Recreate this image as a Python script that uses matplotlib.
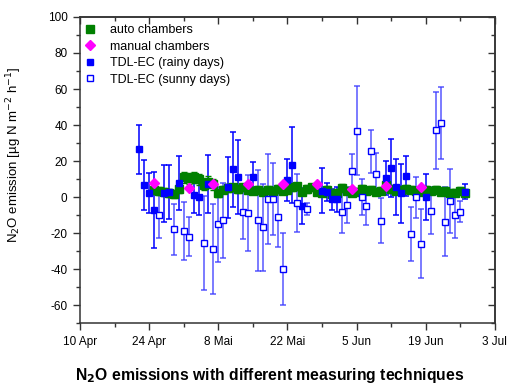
import matplotlib
matplotlib.use("Agg")
import matplotlib.pyplot as plt
import numpy as np
from matplotlib.ticker import MultipleLocator

plt.rcParams['font.family'] = ['Liberation Sans', 'DejaVu Sans']
plt.rcParams['axes.unicode_minus'] = False

# x = days after 10 Apr
date_ticks = [0, 14, 28, 42, 56, 70, 84]
date_labels = ["10 Apr", "24 Apr", "8 Mai", "22 Mai", "5 Jun", "19 Jun", "3 Jul"]

# auto chambers (daily)
auto_days = list(range(15, 79))
auto_vals = [3.9, 3.3, 3.0, 2.2, 1.7, 4.5, 11.0, 10.4, 11.0, 9.8,
             6.7, 8.5, 7.0, 2.0, 4.0, 5.0, 5.5, 4.5, 5.5, 4.0,
             3.5, 4.0, 3.0, 4.0, 3.5, 4.5, 3.5, 4.0, 5.5, 6.0,
             3.0, 4.5, 5.5, 3.0, 2.5, 4.0, 1.5, 2.5, 5.0, 3.5,
             2.5, 3.0, 4.5, 3.5, 4.0, 3.0, 3.5, 6.5, 4.5, 3.5,
             4.0, 4.5, 4.0, 3.5, 3.0, 4.0, 3.5, 4.0, 3.0, 3.5,
             2.0, 2.5, 3.5, 2.5]
auto_err = [2, 2, 2, 2, 2, 2, 3, 3, 3, 3,
            3, 3, 3, 2, 2, 2, 2, 2, 2, 2,
            2, 2, 2, 2, 2, 2, 2, 2, 2, 2,
            2, 2, 2, 2, 2, 2, 2, 2, 2, 2,
            2, 2, 2, 2, 2, 2, 2, 2, 2, 2,
            2, 2, 2, 2, 2, 2, 2, 2, 2, 2,
            2, 2, 2, 2]

# manual chambers
manual_days = [15, 22, 27, 34, 41, 48, 55, 62, 69]
manual_vals = [8.0, 5.0, 7.5, 7.3, 7.0, 7.0, 4.4, 6.0, 5.6]

# TDL-EC rainy days
rainy_days = [12, 13, 14, 15, 17, 18, 20, 23, 24, 26, 30, 31, 32, 35,
              42, 43, 45, 49, 50, 51, 52, 62, 63, 64, 65, 66, 70, 78]
rainy_vals = [26.5, 6.7, 2.4, -7.2, 2.0, 3.0, 8.0, 1.1, 0.2, 7.2, 5.4, 15.4, 11.3, 10.9,
              9.4, 17.8, -4.8, 3.5, 3.0, -1.3, -1.3, 10.4, 16.3, 5.7, 2.0, 11.7, 0.2, 3.0]
rainy_err = [13.5, 14, 11, 21, 16, 15, 15, 10, 10, 16, 17, 21, 20.5, 8.5,
             11.6, 21, 10, 12.5, 5, 6, 7, 9.5, 16, 15.5, 16.5, 11, 12.7, 4]

# TDL-EC sunny days
sunny_days = [16, 19, 21, 22, 25, 27, 28, 29, 33, 34, 36, 37, 38, 39, 40, 41, 44, 46,
              53, 54, 55, 56, 57, 58, 59, 60, 61, 67, 68, 69, 71, 72, 73, 74, 75, 76, 77]
sunny_vals = [-10.0, -18.0, -18.7, -22.0, -25.6, -29.0, -15.2, -13.0, -8.2, -8.7, -12.8,
              -16.8, -1.3, -0.9, -10.9, -40.2, -3.3, -6.7,
              -8.3, -4.6, 14.4, 36.9, 0.2, -4.8, 25.5, 12.8, -13.1, -20.6, -0.2, -25.9,
              -7.6, 37.0, 41.3, -13.7, -2.2, -10.0, -8.1]
sunny_err = [13, 14, 16, 11, 26, 25, 21, 21, 15, 21, 28, 24, 25, 20, 17, 20, 16, 3.5,
             11.5, 10, 9.6, 24.5, 10, 10.5, 12, 11.5, 12.5, 15, 11.4, 19, 13, 21.5, 20,
             19, 18, 13, 6]

fig = plt.figure(figsize=(5.07, 3.86), dpi=100)
ax = fig.add_axes([0.158, 0.163, 0.818, 0.793])

blue = '#0000ff'
ax.errorbar(rainy_days, rainy_vals, yerr=rainy_err, fmt='none', ecolor=blue,
            elinewidth=1.1, capsize=2.5, capthick=1.1, zorder=2)
ax.errorbar(sunny_days, sunny_vals, yerr=sunny_err, fmt='none', ecolor='#3a3aff',
            elinewidth=1.1, capsize=2.5, capthick=1.1, alpha=0.85, zorder=2)
ax.errorbar(auto_days, auto_vals, yerr=auto_err, fmt='none', ecolor='#008000',
            elinewidth=1, capsize=2.5, capthick=1, zorder=3)

h_auto, = ax.plot(auto_days, auto_vals, 's', color='#008000', ms=5.5, mec='#008000',
                  zorder=3, label='auto chambers')
h_rainy, = ax.plot(rainy_days, rainy_vals, 's', color=blue, ms=5, mec=blue,
                   zorder=4, label='TDL-EC (rainy days)')
h_sunny, = ax.plot(sunny_days, sunny_vals, 's', mfc='white', mec=blue, mew=1, ms=5,
                   zorder=4, label='TDL-EC (sunny days)')
h_man, = ax.plot(manual_days, manual_vals, 'D', color='#ff00ff', mec='#ff00ff', ms=5.5,
                 zorder=5, label='manual chambers')

ax.set_xlim(0, 84)
ax.set_ylim(-70, 100)
ax.set_xticks(date_ticks)
ax.set_xticklabels(date_labels)
ax.xaxis.set_minor_locator(MultipleLocator(7))
ax.set_yticks(range(-60, 101, 20))
ax.yaxis.set_minor_locator(MultipleLocator(10))
ax.tick_params(which='major', direction='out', length=5, width=1, labelsize=8.5,
               color='#333333', pad=4)
ax.tick_params(which='minor', direction='out', length=3, width=1, color='#333333')

# inward ticks on top and right, like the original
top = ax.secondary_xaxis('top')
top.set_xticks(date_ticks)
top.xaxis.set_minor_locator(MultipleLocator(7))
top.tick_params(which='major', direction='in', length=5, width=1, labeltop=False, color='#333333')
top.tick_params(which='minor', direction='in', length=3, width=1, color='#333333')
right = ax.secondary_yaxis('right')
right.set_yticks(range(-60, 101, 20))
right.yaxis.set_minor_locator(MultipleLocator(10))
right.tick_params(which='major', direction='in', length=5, width=1, labelright=False, color='#333333')
right.tick_params(which='minor', direction='in', length=3, width=1, color='#333333')

for a in (ax, top, right):
    for s in a.spines.values():
        s.set_color('#333333')
        s.set_linewidth(1.1)

ax.set_ylabel(r'N$_2$O emission [µg N m$^{-2}$ h$^{-1}$]', fontsize=9.5)
ax.yaxis.set_label_coords(-0.135, 0.55)

ax.legend(handles=[h_auto, h_man, h_rainy, h_sunny], loc='upper left', frameon=False,
          fontsize=9, handlelength=1.0, handletextpad=1.1, labelspacing=0.35,
          borderaxespad=0.2, bbox_to_anchor=(-0.01, 1.0))

fig.text(0.533, 0.028, r'N$_\mathbf{2}$O emissions with different measuring techniques',
         ha='center', va='center', fontsize=11.3, fontweight='bold')

fig.savefig('out.png', dpi=100)
